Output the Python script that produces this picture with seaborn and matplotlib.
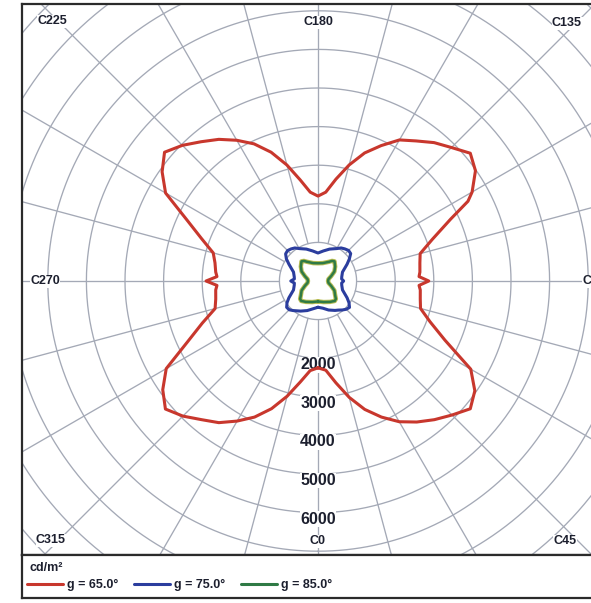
import numpy as np
import pandas as pd
import matplotlib
matplotlib.use("Agg")
import matplotlib.pyplot as plt
import matplotlib.patheffects as pe
from matplotlib.lines import Line2D
import seaborn as sns

sns.set_theme(style="white")
plt.rcParams["font.family"] = ["Liberation Sans", "DejaVu Sans"]

# ---------------- data (C-plane angle in degrees, luminance in cd/m²) ----------------
red_c = [0, 5, 10, 15, 20, 25, 30, 35, 40, 45, 50, 55, 60, 65, 70, 75, 80, 85, 87.5, 90,
         92.5, 95, 100, 105, 110, 115, 118, 120, 125, 130, 135, 140, 145, 150, 155, 160,
         165, 170, 175, 180, 185, 190, 195, 200, 205, 210, 215, 220, 225, 230, 235, 240,
         245, 250, 255, 260, 265, 267.5, 270, 272.5, 275, 280, 285, 290, 295, 300, 305,
         310, 315, 320, 325, 330, 335, 340, 345, 350, 355]
red_l = [2250, 2320, 2680, 3120, 3540, 3890, 4210, 4460, 4690, 4910, 5150, 4960, 4570,
         3630, 3090, 2750, 2690, 2660, 2620, 2870,
         2620, 2650, 2680, 2740, 3150, 3790, 4400, 4610, 4980, 5150, 4890, 4680, 4430,
         4220, 3870, 3530, 3110, 2680, 2310, 2200, 2310, 2660, 3110, 3550, 3920, 4210,
         4480, 4710, 4970, 5190, 4930, 4560, 3750, 3210, 2810, 2710, 2660, 2620, 2900,
         2620, 2660, 2690, 2760, 3190, 3730, 4540, 4910, 5160, 4950, 4690, 4480, 4190,
         3890, 3520, 3090, 2660, 2330]

blue_c = [0, 10, 20, 30, 35, 40, 45, 50, 55, 60, 70, 80, 85, 90, 95, 100, 110, 120, 125,
          130, 135, 140, 145, 150, 160, 170, 180, 190, 200, 210, 215, 220, 225, 230, 235,
          240, 250, 260, 265, 270, 275, 280, 290, 300, 305, 310, 315, 320, 330, 340, 350]
blue_l = [680, 715, 800, 880, 920, 980, 1035, 1065, 980, 870, 675, 625, 615, 665, 615,
          625, 675, 870, 990, 1105, 1120, 1085, 1045, 970, 880, 790, 725, 790, 880, 970,
          1045, 1085, 1115, 1095, 1000, 870, 675, 625, 615, 705, 615, 625, 675, 870, 980,
          1060, 1055, 1000, 900, 815, 730]

green_c = [0, 15, 30, 40, 45, 50, 60, 70, 80, 90, 100, 110, 120, 130, 140, 145, 150, 165,
           180, 195, 210, 215, 220, 230, 240, 250, 260, 270, 280, 290, 300, 310, 315, 320,
           330, 345]
green_l = [530, 565, 625, 675, 655, 580, 490, 360, 275, 260, 275, 360, 490, 580, 665, 635,
           575, 480, 460, 480, 575, 635, 665, 580, 490, 360, 275, 260, 275, 360, 490, 580,
           655, 675, 625, 565]

series_names = ["g = 65.0°", "g = 75.0°", "g = 85.0°"]
series_colors = ["#c8372d", "#2b3d9e", "#2f7a45"]

ring_values = [1000, 2000, 3000, 4000, 5000, 6000, 7000, 8000, 9000, 10000, 11000]
ring_labels = ["2000", "3000", "4000", "5000", "6000"]
spoke_angles = list(range(0, 360, 15))
c_labels = ["C0", "C45", "C90", "C135", "C180", "C225", "C270", "C315"]
unit_label = "cd/m²"

# ---------------- build table ----------------
rows = []
for name, cs, ls in zip(series_names, [red_c, blue_c, green_c], [red_l, blue_l, green_l]):
    cs2 = list(cs) + [cs[0]]
    ls2 = list(ls) + [ls[0]]
    for i, (c, l) in enumerate(zip(cs2, ls2)):
        t = np.deg2rad(c)
        rows.append({"series": name, "order": i, "C": c, "L": l,
                     "x": l * np.sin(t), "y": -l * np.cos(t)})
df = pd.DataFrame(rows)

# ---------------- layout ----------------
W, H = 591, 603
fig = plt.figure(figsize=(W / 100, H / 100), dpi=100)
fig.patch.set_facecolor("white")

PX = 1000 / 38.6          # cd/m² per pixel
cx, cy = 318, 281         # pixel position of the centre
bl, br, bt, bb = 22, 614, 4, 555   # plot frame (pixels)
lg_b = 598                 # legend box bottom

ax = fig.add_axes([bl / W, 1 - bb / H, (br - bl) / W, (bb - bt) / H])
ax.set_xlim((bl - cx) * PX, (br - cx) * PX)
ax.set_ylim((cy - bb) * PX, (cy - bt) * PX)
ax.set_xticks([])
ax.set_yticks([])

def P(px, py):
    return (px - cx) * PX, (cy - py) * PX

grid_col = "#a4a9b6"
th = np.linspace(0, 2 * np.pi, 721)
for r in ring_values:
    ax.plot(r * np.sin(th), -r * np.cos(th), color=grid_col, lw=0.95, zorder=1)
for a in spoke_angles:
    t = np.deg2rad(a)
    ax.plot([1000 * np.sin(t), 14000 * np.sin(t)], [-1000 * np.cos(t), -14000 * np.cos(t)],
            color=grid_col, lw=0.95, zorder=1)

# curves
sns.lineplot(data=df, x="x", y="y", hue="series", hue_order=series_names,
             palette=series_colors, sort=False, estimator=None, units="series",
             legend=False, lw=2.2, ax=ax, zorder=4)
for ln in ax.lines[-3:]:
    if ln.get_color() == series_colors[2]:
        ln.set_path_effects([pe.Stroke(linewidth=3.2, foreground="#b9bd55"), pe.Normal()])
        ln.set_linewidth(1.8)
ax.set_xlabel("")
ax.set_ylabel("")

txt_col = "#1c1f2e"
bbox = dict(facecolor="white", edgecolor="none", pad=0.4)
for lab in ring_labels:
    v = float(lab)
    ax.text(0, -(v + 6.5 * PX), lab, ha="center", va="center", fontsize=11.5,
            fontweight="bold", color=txt_col, bbox=bbox, zorder=3)

c_pos = {"C0": (318, 541), "C45": (565, 541), "C90": (594, 281), "C135": (567, 23),
         "C180": (318, 22), "C225": (52, 21), "C270": (45, 281), "C315": (51, 540)}
for lab in c_labels:
    x, y = P(*c_pos[lab])
    ax.text(x, y, lab, ha="center", va="center", fontsize=9, fontweight="bold",
            color=txt_col, bbox=bbox, zorder=3)

for s in ax.spines.values():
    s.set_color("#2b2b2b")
    s.set_linewidth(1.6)

# ---------------- legend box ----------------
ax2 = fig.add_axes([bl / W, 1 - lg_b / H, (br - bl) / W, (lg_b - bb) / H])
ax2.set_xlim(bl, br)
ax2.set_ylim(lg_b, bb)
ax2.set_xticks([])
ax2.set_yticks([])
for s in ax2.spines.values():
    s.set_color("#2b2b2b")
    s.set_linewidth(1.6)
ax2.text(30, 568, unit_label, ha="left", va="center", fontsize=9, fontweight="bold",
         color=txt_col)
handles = [Line2D([], [], color=c, lw=2.2) for c in series_colors]
leg = ax2.legend(handles, series_names, loc="center left", bbox_to_anchor=(27, 585),
                 bbox_transform=ax2.transData, ncol=3, frameon=False, fontsize=9,
                 handlelength=2.9, handletextpad=0.3, columnspacing=1.25,
                 borderpad=0, borderaxespad=0)
for t in leg.get_texts():
    t.set_fontweight("bold")
    t.set_color(txt_col)

fig.savefig("out.png", dpi=100)
